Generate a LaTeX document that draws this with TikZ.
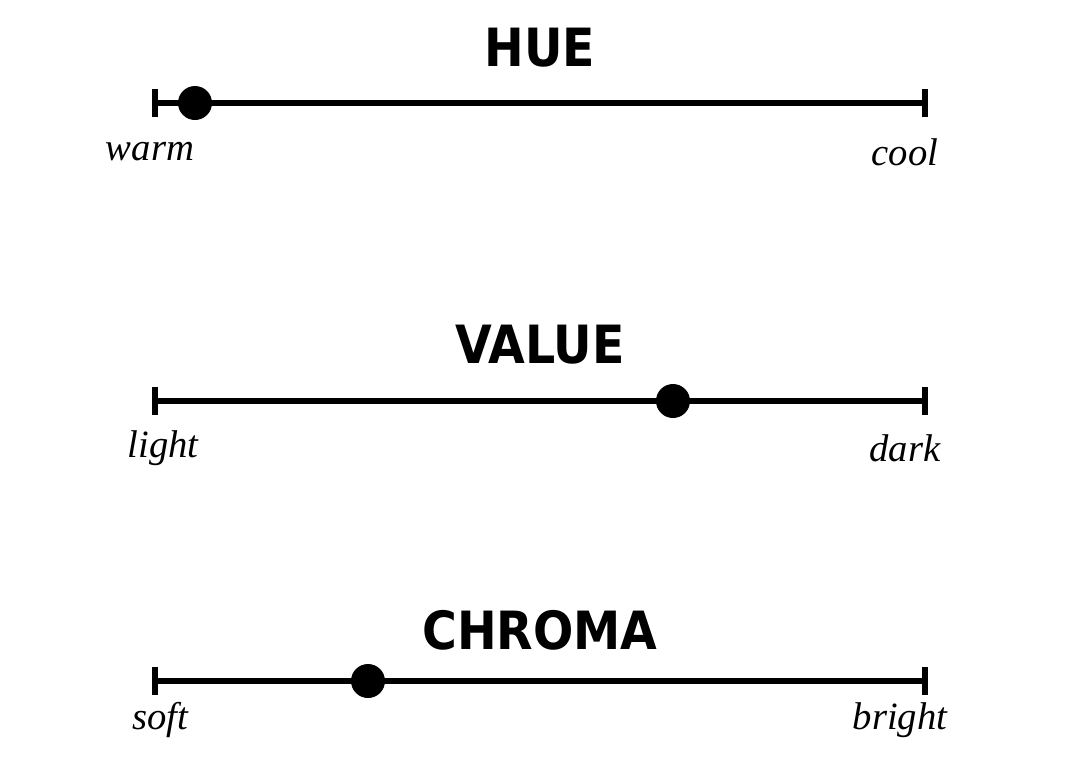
\documentclass[tikz,border=0pt]{standalone}
\usepackage{fontspec}
\setmainfont{Liberation Serif}
\newfontfamily\titlefont{DejaVu Sans Condensed}
\begin{document}
\begin{tikzpicture}[
        x=0.02cm, y=-0.02cm,
        scaleline/.style={line width=3pt},
        tick/.style={line width=3pt},
        knob/.style={circle, fill=black, inner sep=0pt, minimum size=0.68cm},
        heading/.style={font=\titlefont\bfseries\fontsize{30}{36}\selectfont},
        endlabel/.style={font=\itshape\fontsize{22}{26}\selectfont}
    ]
        \useasboundingbox (0,0) rectangle (1080,772);

        % Hue
        \node[heading] (huetitle) at (540,48) {HUE};
        \coordinate (hueL) at (155,103);
        \coordinate (hueR) at (925,103);
        \draw[scaleline] (hueL) -- (hueR);
        \draw[tick] ([yshift=-0.28cm]hueL) -- ([yshift=0.28cm]hueL);
        \draw[tick] ([yshift=-0.28cm]hueR) -- ([yshift=0.28cm]hueR);
        \node[knob] (hueknob) at (195,103) {};
        \node[endlabel] (warm) at (150,152) {warm};
        \node[endlabel] (cool) at (905,152) {cool};

        % Value
        \node[heading] (valuetitle) at (540,345) {VALUE};
        \coordinate (valueL) at (155,401);
        \coordinate (valueR) at (925,401);
        \draw[scaleline] (valueL) -- (valueR);
        \draw[tick] ([yshift=-0.28cm]valueL) -- ([yshift=0.28cm]valueL);
        \draw[tick] ([yshift=-0.28cm]valueR) -- ([yshift=0.28cm]valueR);
        \node[knob] (valueknob) at (673,401) {};
        \node[endlabel] (light) at (163,448) {light};
        \node[endlabel] (dark) at (905,448) {dark};

        % Chroma
        \node[heading] (chromatitle) at (540,630) {CHROMA};
        \coordinate (chromaL) at (155,681);
        \coordinate (chromaR) at (925,681);
        \draw[scaleline] (chromaL) -- (chromaR);
        \draw[tick] ([yshift=-0.28cm]chromaL) -- ([yshift=0.28cm]chromaL);
        \draw[tick] ([yshift=-0.28cm]chromaR) -- ([yshift=0.28cm]chromaR);
        \node[knob] (chromaknob) at (368,681) {};
        \node[endlabel] (soft) at (160,720) {soft};
        \node[endlabel] (bright) at (900,720) {bright};

    \end{tikzpicture}
\end{document}
